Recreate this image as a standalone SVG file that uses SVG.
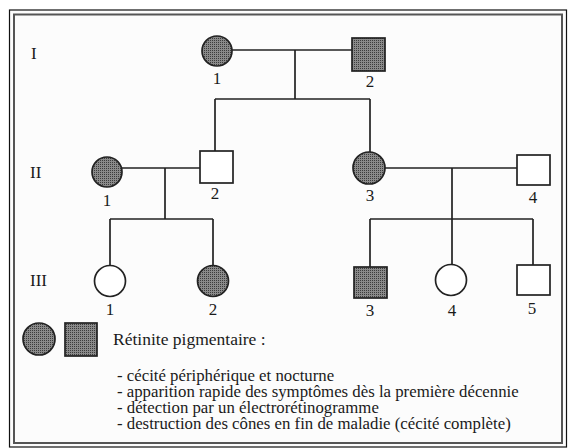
<svg xmlns="http://www.w3.org/2000/svg" width="571" height="448" viewBox="0 0 571 448">
<defs>
<pattern id="dots" width="2" height="2" patternUnits="userSpaceOnUse"><rect width="2" height="2" fill="#8a8a8a"/><rect width="1" height="1" fill="#3c3c3c"/></pattern>
<style>
.aff{fill:url(#dots);stroke:#222;stroke-width:1.7}
.un{fill:#fff;stroke:#222;stroke-width:1.7}
.ln{fill:none;stroke:#222;stroke-width:1.7}
text{font-family:"Liberation Serif","Times New Roman",serif;fill:#1a1a1a}
.num{font-size:17px;text-anchor:middle}
.gen{font-size:17px}
.ttl{font-size:17.5px}
.leg{font-size:16.8px}
</style>
</defs>
<rect width="571" height="448" fill="#fff"/>
<g id="frame">
<rect x="9.5" y="10" width="557" height="437" fill="#fcfcfc" stroke="#111" stroke-width="1.2"/>
<rect x="14" y="14.5" width="548" height="428.5" fill="none" stroke="#555" stroke-width="2"/>
</g>
<g id="generations">
<text class="gen" x="31" y="59">I</text>
<text class="gen" x="30" y="178">II</text>
<text class="gen" x="30" y="286">III</text>
</g>
<g id="connectors" class="ln">
<path d="M232 50 H352 M295 50 V99 M215 99 H370 M215 99 V151 M370 99 V152"/>
<path d="M122 168 H200 M165 168 V219 M110 219 H213 M110 219 V265.5 M213 219 V265.5"/>
<path d="M385 168 H517 M452 168 V264.5 M370 219 H533 M370 219 V267 M533 219 V265"/>
</g>
<g id="I-1"><circle class="aff" cx="217" cy="51" r="15"/><text class="num" x="217" y="84">1</text></g>
<g id="I-2"><rect class="aff" x="352" y="38" width="33" height="33"/><text class="num" x="370" y="87">2</text></g>
<g id="II-1"><circle class="aff" cx="107" cy="172" r="15"/><text class="num" x="107" y="206">1</text></g>
<g id="II-2"><rect class="un" x="200" y="151" width="33" height="32"/><text class="num" x="215" y="199">2</text></g>
<g id="II-3"><circle class="aff" cx="369" cy="168" r="16"/><text class="num" x="370" y="201">3</text></g>
<g id="II-4"><rect class="un" x="517" y="155" width="33" height="30"/><text class="num" x="533" y="203">4</text></g>
<g id="III-1"><circle class="un" cx="110" cy="281" r="15.5"/><text class="num" x="110" y="315">1</text></g>
<g id="III-2"><circle class="aff" cx="213" cy="281" r="15.5"/><text class="num" x="213" y="315">2</text></g>
<g id="III-3"><rect class="aff" x="354" y="267" width="33" height="31"/><text class="num" x="370" y="316">3</text></g>
<g id="III-4"><circle class="un" cx="451" cy="280" r="15.5"/><text class="num" x="452" y="316">4</text></g>
<g id="III-5"><rect class="un" x="517" y="265" width="33" height="30"/><text class="num" x="532" y="314">5</text></g>
<g id="legend">
<circle class="aff" cx="39" cy="339" r="16"/>
<rect class="aff" x="65" y="323" width="32" height="33"/>
<text class="ttl" x="113" y="345">Rétinite pigmentaire :</text>
<text class="leg" x="117" y="381">- cécité périphérique et nocturne</text>
<text class="leg" x="117" y="397">- apparition rapide des symptômes dès la première décennie</text>
<text class="leg" x="117" y="413">- détection par un électrorétinogramme</text>
<text class="leg" x="117" y="429">- destruction des cônes en fin de maladie (cécité complète)</text>
</g>
</svg>
